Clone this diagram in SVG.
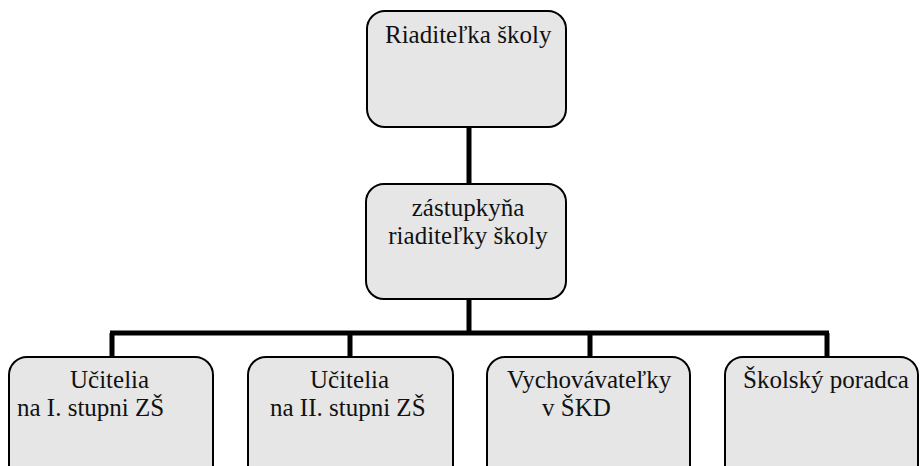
<svg xmlns="http://www.w3.org/2000/svg" width="920" height="466" viewBox="0 0 920 466">
<style>
.box{fill:#e6e6e6;stroke:#000;stroke-width:2}
.c{fill:none;stroke:#000;stroke-width:5}
.t{font-family:'Liberation Serif',Tinos,'Times New Roman',serif;font-size:25px;fill:#111}
</style>
<rect width="920" height="466" fill="#fff"/>
<g id="connectors">
<path class="c" d="M469 127V183"/>
<path class="c" d="M469 299V333"/>
<path class="c" d="M110 333H829"/>
<path class="c" d="M112 333V357M350 333V357M590 333V357M827 333V357"/>
</g>
<g id="n1"><rect class="box" x="367" y="11" width="199" height="116" rx="18"/><text class="t" x="385" y="43" font-family="Liberation Serif">Riaditeľka školy</text></g>
<g id="n2"><rect class="box" x="366" y="184" width="200" height="115" rx="18"/><text class="t" x="468" y="216" text-anchor="middle" font-family="Liberation Serif">zástupkyňa</text><text class="t" x="468" y="244" text-anchor="middle" font-family="Liberation Serif">riaditeľky školy</text></g>
<g id="n3"><rect class="box" x="9" y="357" width="204" height="130" rx="18"/><text class="t" x="70" y="388" font-family="Liberation Serif">Učitelia</text><text class="t" x="17" y="416" font-family="Liberation Serif">na I. stupni ZŠ</text></g>
<g id="n4"><rect class="box" x="248" y="357" width="205" height="130" rx="18"/><text class="t" x="310" y="388" font-family="Liberation Serif">Učitelia</text><text class="t" x="270" y="416" font-family="Liberation Serif">na II. stupni ZŠ</text></g>
<g id="n5"><rect class="box" x="487" y="357" width="203" height="130" rx="18"/><text class="t" x="507" y="388" font-family="Liberation Serif">Vychovávateľky</text><text class="t" x="542" y="416" font-family="Liberation Serif">v ŠKD</text></g>
<g id="n6"><rect class="box" x="725" y="357" width="193" height="130" rx="18"/><text class="t" x="743" y="388" font-family="Liberation Serif">Školský poradca</text></g>
</svg>
